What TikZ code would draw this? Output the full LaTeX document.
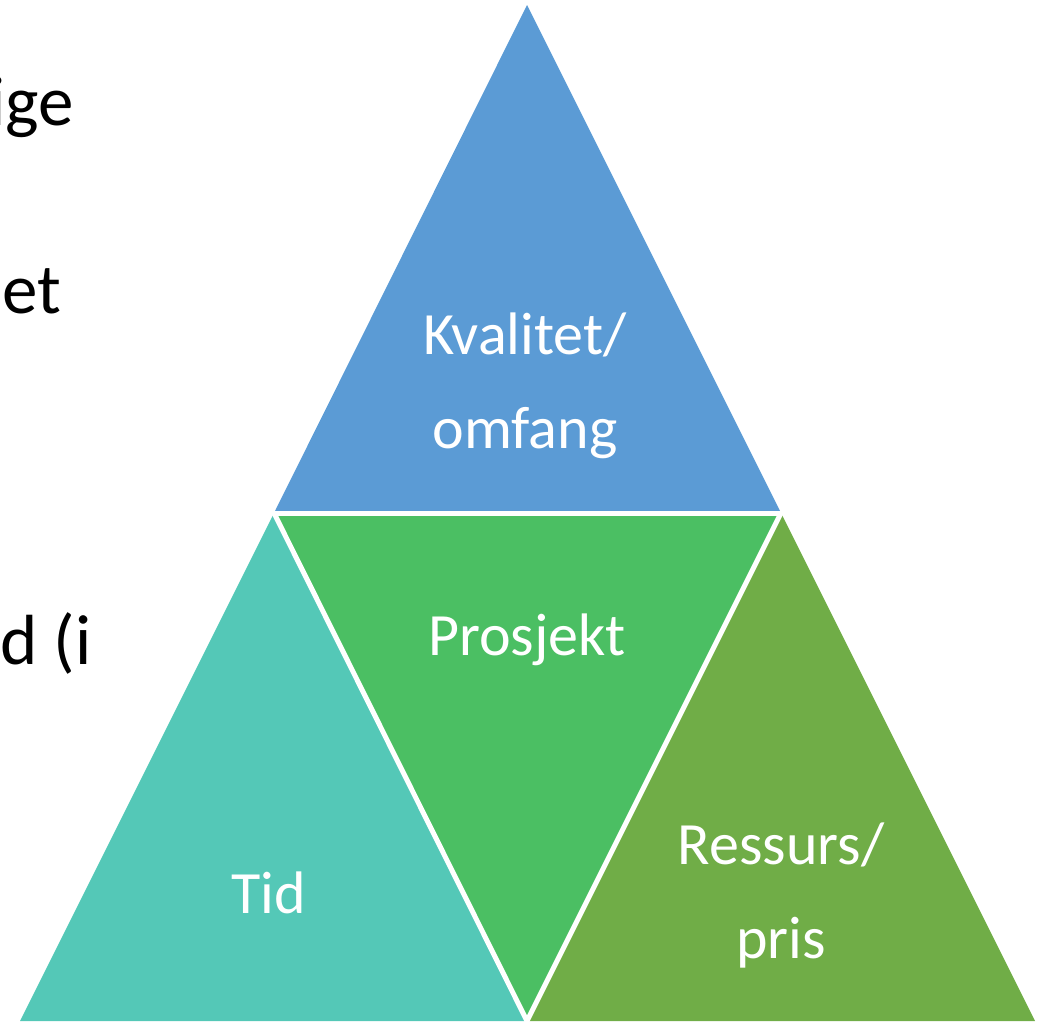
\documentclass[tikz,border=0pt]{standalone}
\usepackage{fontspec}
\setmainfont{Carlito}
\usetikzlibrary{positioning}
\definecolor{kvalblue}{HTML}{5B9BD5}
\definecolor{tidteal}{HTML}{54C8B7}
\definecolor{prosgreen}{HTML}{4BBF63}
\definecolor{resgreen}{HTML}{70AD47}
\begin{document}
\begin{tikzpicture}[x=1pt,y=-1pt,
  gap/.style={draw=white,line width=5pt,line cap=round},
  parttext/.style={text=white,align=center,font=\fontsize{60}{94}\selectfont},
  sidetext/.style={anchor=base east,text=black,font=\fontsize{71}{84}\selectfont}]
% Page outline
  \useasboundingbox (0,0) rectangle (1045,1021);
  \clip (0,0) rectangle (1045,1021);
% Corner points
  \coordinate (apex) at (527,5);
  \coordinate (lmid) at (274,513);
  \coordinate (rmid) at (781,513);
  \coordinate (bl) at (20,1021);
  \coordinate (bmid) at (527,1021);
  \coordinate (br) at (1035,1021);
% Quality/scope triangle (top)
  \fill[kvalblue] (apex) -- (rmid) -- (lmid) -- cycle;
% Time triangle (left)
  \fill[tidteal] (lmid) -- (bmid) -- (bl) -- cycle;
% Project triangle (middle)
  \fill[prosgreen] (lmid) -- (rmid) -- (bmid) -- cycle;
% Resource triangle (right)
  \fill[resgreen] (rmid) -- (br) -- (bmid) -- cycle;
% White gaps between the parts
  \draw[gap] (lmid) -- (rmid);
  \draw[gap] (lmid) -- (bmid);
  \draw[gap] (rmid) -- (bmid);
% Labels in the parts (base = last line)
  \node[parttext,anchor=base] (kval) at (525,448) {Kvalitet/\\omfang};
  \node[parttext,anchor=base] (pros) at (527,655) {Prosjekt};
  \node[parttext,anchor=base] (tid) at (269,913) {Tid};
  \node[parttext,anchor=base] (res) at (781,958) {Ressurs/\\pris};
% Cut off text on the left
  \node[sidetext] (side1) at (77,125) {ige};
  \node[sidetext] (side2) at (65,313) {et};
  \node[sidetext] (side3) at (95,664) {d (i};
\end{tikzpicture}
\end{document}
